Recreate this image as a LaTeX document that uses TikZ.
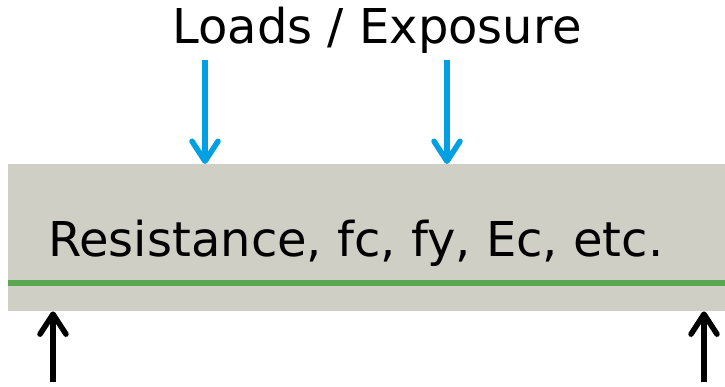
\documentclass[tikz,border=0pt]{standalone}
\usepackage{fontspec}
\setmainfont{DejaVu Sans}
\usetikzlibrary{arrows.meta}
\definecolor{slabgray}{RGB}{207,207,198}
\definecolor{loadblue}{RGB}{0,160,226}
\definecolor{rebargreen}{RGB}{91,168,83}
\tikzset{
  load/.style={draw=loadblue, line width=5.5pt,
    -{Straight Barb[length=20pt,width=26pt,line cap=round,line join=round]}},
  support/.style={draw=black, line width=5.5pt,
    -{Straight Barb[length=20pt,width=26pt,line cap=round,line join=round]}},
  label/.style={font=\fontsize{48}{56}\selectfont, inner sep=0pt}
}
\begin{document}
\begin{tikzpicture}[x=1pt,y=-1pt]
  \useasboundingbox (0,0) rectangle (725,386);
  % member
  \node[fill=slabgray, minimum width=717pt, minimum height=147pt, inner sep=0pt, anchor=north west] (slab) at (8,164) {};
  \draw[rebargreen, line width=6pt] (slab.west |- 0,283) coordinate (gl) -- (slab.east |- 0,283) coordinate (gr);
  \node[label, anchor=base west] (res) at (48,256) {Resistance, fc, fy, Ec, etc.};
  % title
  \node[label, anchor=base] (title) at (377,43) {Loads / Exposure};
  % applied loads
  \coordinate (l1) at (205,60);
  \coordinate (l2) at (447,60);
  \draw[load] (l1) -- (l1 |- slab.north);
  \draw[load] (l2) -- (l2 |- slab.north);
  % reactions
  \coordinate (r1) at (53,382);
  \coordinate (r2) at (704,382);
  \draw[support] (r1) -- (r1 |- slab.south);
  \draw[support] (r2) -- (r2 |- slab.south);
\end{tikzpicture}
\end{document}
